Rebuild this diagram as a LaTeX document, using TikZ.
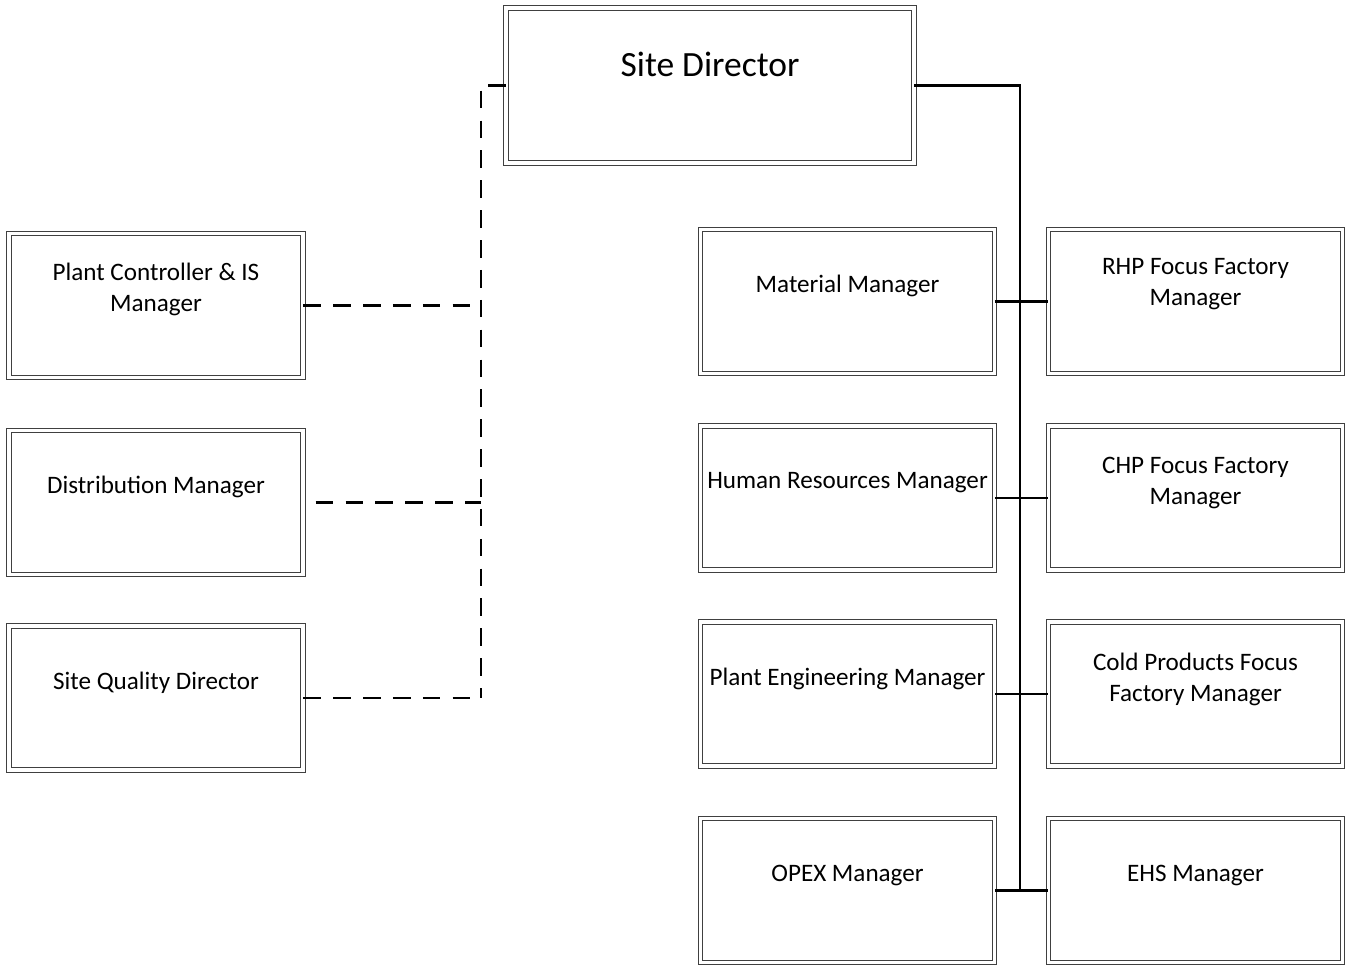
\documentclass[tikz,border=0pt]{standalone}
\usepackage{fontspec}
\setmainfont{Carlito}

\begin{document}
\begin{tikzpicture}[x=0.02cm,y=-0.02cm]
                \tikzstyle{box}=[draw=black!75, double=white, double distance=2.2pt, line width=0.45pt, minimum width=5.88cm, minimum height=2.88cm, inner sep=0pt]
                \tikzstyle{txt}=[align=center, font=\fontsize{14.3}{17.6}\selectfont]
                \tikzstyle{solid link}=[line width=1.2pt]
                \tikzstyle{dash link}=[line width=1.2pt, dash pattern=on 10pt off 7pt]
                
                \useasboundingbox (0,0) rectangle (1351,966);
                
                % top
                \node[box, minimum width=8.16cm, minimum height=3.1cm] (sd) at (710,85.5) {};
                \node[txt, font=\fontsize{20.2}{24}\selectfont] (sdt) at ([yshift=0.43cm]sd.center) {Site Director};
                
                % left column
                \node[box] (pc) at (156,305.5) {};
                \node[box] (dist) at (156,502.5) {};
                \node[box] (sq) at (156,698) {};
                \node[txt] (pct) at ([yshift=0.33cm]pc.center) {Plant Controller \& IS\\Manager};
                \node[txt] (distt) at ([yshift=0.31cm]dist.center) {Distribution Manager};
                \node[txt] (sqt) at ([yshift=0.3cm]sq.center) {Site Quality Director};
                
                % middle column
                \node[box] (mat) at (847.5,301.5) {};
                \node[box] (hr) at (847.5,498) {};
                \node[box] (pe) at (847.5,694) {};
                \node[box] (opex) at (847.5,890.5) {};
                \node[txt] (matt) at ([yshift=0.32cm]mat.center) {Material Manager};
                \node[txt] (hrt) at ([yshift=0.3cm]hr.center) {Human Resources Manager};
                \node[txt] (pet) at ([yshift=0.3cm]pe.center) {Plant Engineering Manager};
                \node[txt] (opext) at ([yshift=0.31cm]opex.center) {OPEX Manager};
                
                % right column
                \node[box] (rhp) at (1195.5,301.5) {};
                \node[box] (chp) at (1195.5,498) {};
                \node[box] (cold) at (1195.5,694) {};
                \node[box] (ehs) at (1195.5,890.5) {};
                \node[txt] (rhpt) at ([yshift=0.34cm]rhp.center) {RHP Focus Factory\\Manager};
                \node[txt] (chpt) at ([yshift=0.3cm]chp.center) {CHP Focus Factory\\Manager};
                \node[txt] (coldt) at ([yshift=0.3cm]cold.center) {Cold Products Focus\\Factory Manager};
                \node[txt] (ehst) at ([yshift=0.31cm]ehs.center) {EHS Manager};
                
                \coordinate (rbus) at (1020,889);
                \coordinate (lbus) at (481,698);
                
                \draw[solid link] (sd.east) -| (rbus);
                \draw[solid link] (mat.east) -- (rhp.west);
                \draw[solid link] (hr.east) -- (chp.west);
                \draw[solid link] (pe.east) -- (cold.west);
                \draw[solid link] (opex.east) -- (ehs.west);
                
                \draw[dash link] (sd.west) -| (lbus);
                \draw[dash link] (pc.east) -- (pc.east -| lbus);
                \draw[dash link, shorten <=7pt] (dist.east) -- (dist.east -| lbus);
                \draw[dash link] (sq.east) -- (lbus);
                
\end{tikzpicture}
\end{document}
